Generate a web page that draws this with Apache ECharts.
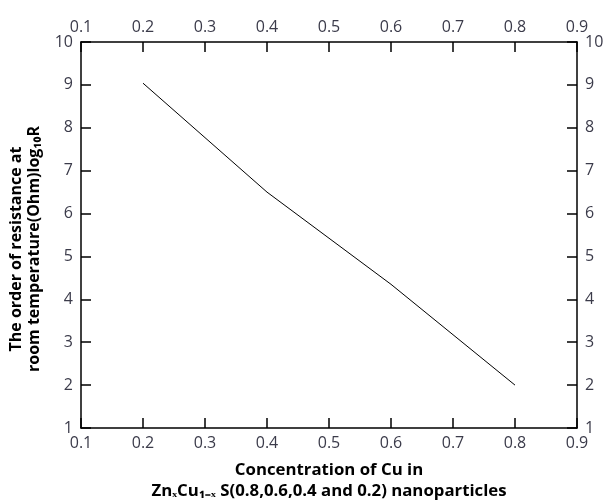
<!DOCTYPE html>
<html>
<head>
<meta charset="utf-8">
<script src="https://cdn.jsdelivr.net/npm/echarts@6/dist/echarts.min.js"></script>
<style>
  html, body { margin: 0; padding: 0; background: #fff; }
  #chart { width: 608px; height: 500px; }
</style>
</head>
<body>
<div id="chart"></div>
<script>
// concentration of Cu (x) and log10 R
const cuConc = [0.2, 0.4, 0.6, 0.8]
const logR = [9.04, 6.5, 4.35, 2.0]

const xTitle = 'Concentration of Cu in\nZn\u2093Cu\u2081\u208B\u2093 S(0.8,0.6,0.4 and 0.2) nanoparticles'
const yTitle = 'The order of resistance at\nroom temperature(Ohm)log\u2081\u2080R'

const labelStyle = {
  color: '#3b3b4a',
  fontFamily: 'Open Sans',
  fontSize: 16
}
const lineStyle = { color: '#000', width: 1.5 }

function xAxisCfg(pos, withName) {
  return {
    type: 'value',
    position: pos,
    min: 0.1,
    max: 0.9,
    interval: 0.1,
    name: withName ? xTitle : '',
    nameLocation: 'middle',
    nameGap: 32,
    nameTextStyle: {
      color: '#000',
      fontFamily: 'Open Sans',
      fontWeight: 'bold',
      fontSize: 16.8,
      lineHeight: 21,
      verticalAlign: 'top'
    },
    axisLine: { show: true, lineStyle: lineStyle },
    axisTick: { show: true, inside: true, length: 10, lineStyle: lineStyle },
    axisLabel: Object.assign({
      margin: 7,
      formatter: v => v.toFixed(1)
    }, labelStyle),
    splitLine: { show: false }
  }
}

function yAxisCfg(pos, withName) {
  return {
    type: 'value',
    position: pos,
    min: 1,
    max: 10,
    interval: 1,
    name: withName ? yTitle : '',
    nameLocation: 'middle',
    nameGap: 30,
    nameTextStyle: {
      color: '#000',
      fontFamily: 'Open Sans',
      fontWeight: 'bold',
      fontSize: 16,
      lineHeight: 18,
      padding: [0, 28, 0, 0]
    },
    axisLine: { show: true, lineStyle: lineStyle },
    axisTick: { show: true, inside: true, length: 10, lineStyle: lineStyle },
    axisLabel: Object.assign({ margin: 8 }, labelStyle),
    splitLine: { show: false }
  }
}

const chart = echarts.init(document.getElementById('chart'))
chart.setOption({
  backgroundColor: '#fff',
  animation: false,
  grid: { left: 81, right: 31, top: 42, bottom: 72, outerBoundsMode: 'none' },
  xAxis: [xAxisCfg('bottom', true), xAxisCfg('top', false)],
  yAxis: [yAxisCfg('left', true), yAxisCfg('right', false)],
  series: [
    {
      type: 'line',
      data: cuConc.map((x, i) => [x, logR[i]]),
      showSymbol: false,
      symbol: 'none',
      lineStyle: { color: '#000', width: 1 }
    }
  ]
})
</script>
</body>
</html>
